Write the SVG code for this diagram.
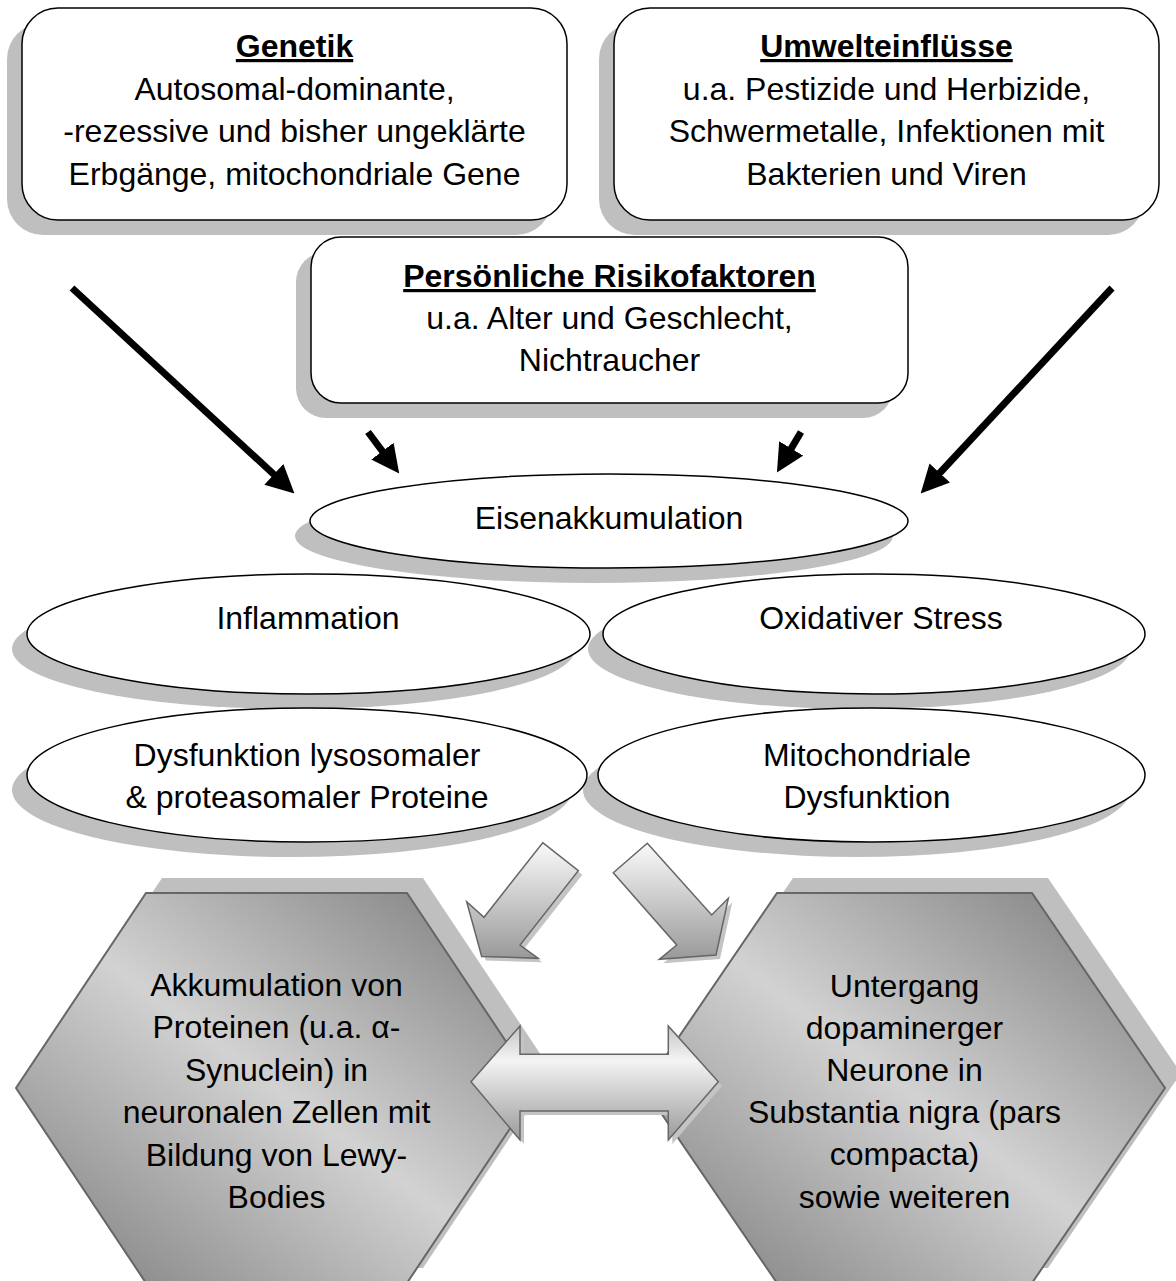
<svg xmlns="http://www.w3.org/2000/svg" width="1176" height="1281" viewBox="0 0 1176 1281">
<defs>
<style>
text{font-family:"Liberation Sans",Arial,sans-serif;font-size:32px;fill:#000;text-anchor:middle}
.t{font-weight:bold;text-decoration:underline}
.box{fill:#fff;stroke:#000;stroke-width:1.5}
.sh{fill:#bfbfbf}
.ell{fill:#fff;stroke:#000;stroke-width:1.5}
.hex{fill:url(#hexG);stroke:#666;stroke-width:2}
.blk{stroke:#000;stroke-width:7;fill:none;marker-end:url(#ah)}
.ga{stroke:#666;stroke-width:1.5}
.gs{fill:#c4c4c4}
</style>
<marker id="ah" markerUnits="userSpaceOnUse" viewBox="0 0 28 28" markerWidth="28" markerHeight="28" refX="13" refY="14" orient="auto">
<path d="M0,0 L28,14 L0,28 z" fill="#000"/>
</marker>
<linearGradient id="hexG" x1="1" y1="0" x2="0" y2="1">
<stop offset="0" stop-color="#787878"/>
<stop offset="0.5" stop-color="#d2d2d2"/>
<stop offset="1" stop-color="#7a7a7a"/>
</linearGradient>
<linearGradient id="downG" x1="0" y1="0" x2="0" y2="1">
<stop offset="0" stop-color="#fafafa"/>
<stop offset="1" stop-color="#999"/>
</linearGradient>
<linearGradient id="dblG" x1="0" y1="0" x2="0" y2="1">
<stop offset="0" stop-color="#c4c4c4"/>
<stop offset="0.3" stop-color="#f4f4f4"/>
<stop offset="1" stop-color="#9a9a9a"/>
</linearGradient>
</defs>
<rect width="1176" height="1281" fill="#fff"/>

<g id="genetik">
<rect class="sh" x="7" y="23" width="545" height="212" rx="36"/>
<rect class="box" x="22" y="8" width="545" height="212" rx="36"/>
<text class="t" x="294.5" y="57">Genetik</text>
<text x="294.5" y="100">Autosomal-dominante,</text>
<text x="294.5" y="142">-rezessive und bisher ungeklärte</text>
<text x="294.5" y="185">Erbgänge, mitochondriale Gene</text>
</g>

<g id="umwelt">
<rect class="sh" x="599" y="23" width="545" height="212" rx="36"/>
<rect class="box" x="614" y="8" width="545" height="212" rx="36"/>
<text class="t" x="886.5" y="57">Umwelteinflüsse</text>
<text x="886.5" y="100">u.a. Pestizide und Herbizide,</text>
<text x="886.5" y="142">Schwermetalle, Infektionen mit</text>
<text x="886.5" y="185">Bakterien und Viren</text>
</g>

<g id="persoenlich">
<rect class="sh" x="296" y="252" width="597" height="166" rx="30"/>
<rect class="box" x="311" y="237" width="597" height="166" rx="30"/>
<text class="t" x="609.5" y="287">Persönliche Risikofaktoren</text>
<text x="609.5" y="329">u.a. Alter und Geschlecht,</text>
<text x="609.5" y="371">Nichtraucher</text>
</g>

<g id="connectors">
<line class="blk" x1="72" y1="288" x2="283.4" y2="483.2"/>
<line class="blk" x1="368" y1="432" x2="390.2" y2="461.6"/>
<line class="blk" x1="801" y1="432" x2="784.6" y2="459.6"/>
<line class="blk" x1="1112" y1="288" x2="930.9" y2="482.5"/>
</g>

<g id="eisen">
<ellipse class="sh" cx="594" cy="536" rx="299" ry="47"/>
<ellipse class="ell" cx="609" cy="521" rx="299" ry="47"/>
<text x="609" y="529">Eisenakkumulation</text>
</g>

<g id="oxidativ">
<ellipse class="sh" cx="859" cy="649" rx="271" ry="60"/>
<ellipse class="ell" cx="874" cy="634" rx="271" ry="60"/>
<text x="881" y="629">Oxidativer Stress</text>
</g>

<g id="inflammation">
<ellipse class="sh" cx="293.5" cy="649" rx="281.5" ry="60"/>
<ellipse class="ell" cx="308.5" cy="634" rx="281.5" ry="60"/>
<text x="308" y="629">Inflammation</text>
</g>

<g id="mito">
<ellipse class="sh" cx="856.5" cy="790" rx="273.5" ry="67"/>
<ellipse class="ell" cx="871.5" cy="775" rx="273.5" ry="67"/>
<text x="867" y="766">Mitochondriale</text>
<text x="867" y="808">Dysfunktion</text>
</g>

<g id="dysfunktion">
<ellipse class="sh" cx="292" cy="790" rx="280" ry="67"/>
<ellipse class="ell" cx="307" cy="775" rx="280" ry="67"/>
<text x="307" y="766">Dysfunktion lysosomaler</text>
<text x="307" y="808">&amp; proteasomaler Proteine</text>
</g>

<g id="akkumulation">
<polygon class="sh" points="162,878 423,878 553,1073 423,1268 162,1268 32,1073"/>
<polygon class="hex" points="146,893 407,893 537,1088 407,1283 146,1283 16,1088"/>
<text x="276.5" y="996">Akkumulation von</text>
<text x="276.5" y="1038">Proteinen (u.a. α-</text>
<text x="276.5" y="1081">Synuclein) in</text>
<text x="276.5" y="1123">neuronalen Zellen mit</text>
<text x="276.5" y="1166">Bildung von Lewy-</text>
<text x="276.5" y="1208">Bodies</text>
</g>

<g id="untergang">
<polygon class="sh" points="793,878 1048,878 1181,1073 1048,1268 793,1268 660,1073"/>
<polygon class="hex" points="777,893 1032,893 1165,1088 1032,1283 777,1283 644,1088"/>
<text x="904.5" y="997">Untergang</text>
<text x="904.5" y="1039">dopaminerger</text>
<text x="904.5" y="1081">Neurone in</text>
<text x="904.5" y="1123">Substantia nigra (pars</text>
<text x="904.5" y="1165">compacta)</text>
<text x="904.5" y="1208">sowie weiteren</text>
</g>

<g id="block-arrows">
<polygon class="gs" transform="translate(4,4)" points="542.7,842.7 578.3,870.7 520,945 538.3,958.3 481.7,956.4 466.7,901.7 484,917.3"/>
<polygon class="ga" fill="url(#downG)" points="542.7,842.7 578.3,870.7 520,945 538.3,958.3 481.7,956.4 466.7,901.7 484,917.3"/>
<polygon class="gs" transform="translate(4,4)" points="647.3,843.3 711.7,915 728.3,898.3 716,955 659.3,959.3 676.7,945 613.3,872.7"/>
<polygon class="ga" fill="url(#downG)" points="647.3,843.3 711.7,915 728.3,898.3 716,955 659.3,959.3 676.7,945 613.3,872.7"/>
<polygon class="gs" transform="translate(4,4)" points="471,1081.7 520,1026 520,1054.3 668.3,1054.3 668.3,1026 718.3,1081.7 668.3,1140 668.3,1111 520,1111 520,1140"/>
<polygon class="ga" fill="url(#dblG)" points="471,1081.7 520,1026 520,1054.3 668.3,1054.3 668.3,1026 718.3,1081.7 668.3,1140 668.3,1111 520,1111 520,1140"/>
</g>
</svg>
